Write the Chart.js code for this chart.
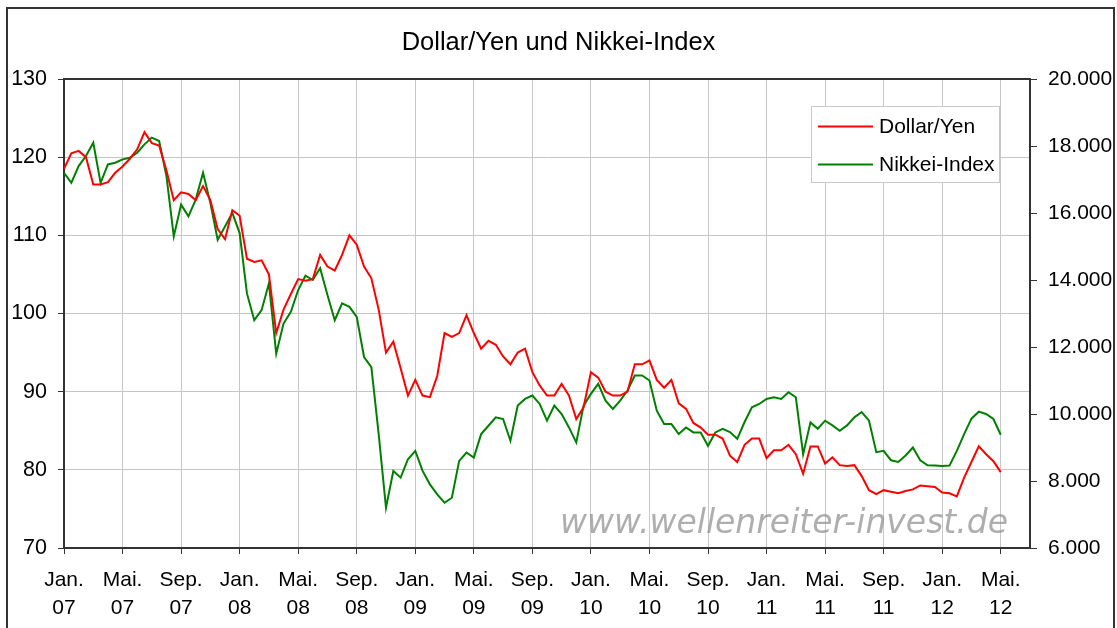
<!DOCTYPE html>
<html>
<head>
<meta charset="utf-8">
<script src="https://cdn.jsdelivr.net/npm/chart.js@4/dist/chart.umd.min.js"></script>
<style>
  html, body { margin: 0; padding: 0; background: #fff; }
  #wrap { width: 1117px; height: 628px; }
</style>
</head>
<body>
<div id="wrap"><canvas id="myChart" width="1117" height="628"></canvas></div>
<script>
  // months since Jan. 2007, one value every half month
  const months = [
    0, 0.5, 1, 1.5, 2, 2.5, 3, 3.5,
    4, 4.5, 5, 5.5, 6, 6.5, 7, 7.5,
    8, 8.5, 9, 9.5, 10, 10.5, 11, 11.5,
    12, 12.5, 13, 13.5, 14, 14.5, 15, 15.5,
    16, 16.5, 17, 17.5, 18, 18.5, 19, 19.5,
    20, 20.5, 21, 21.5, 22, 22.5, 23, 23.5,
    24, 24.5, 25, 25.5, 26, 26.5, 27, 27.5,
    28, 28.5, 29, 29.5, 30, 30.5, 31, 31.5,
    32, 32.5, 33, 33.5, 34, 34.5, 35, 35.5,
    36, 36.5, 37, 37.5, 38, 38.5, 39, 39.5,
    40, 40.5, 41, 41.5, 42, 42.5, 43, 43.5,
    44, 44.5, 45, 45.5, 46, 46.5, 47, 47.5,
    48, 48.5, 49, 49.5, 50, 50.5, 51, 51.5,
    52, 52.5, 53, 53.5, 54, 54.5, 55, 55.5,
    56, 56.5, 57, 57.5, 58, 58.5, 59, 59.5,
    60, 60.5, 61, 61.5, 62, 62.5, 63, 63.5,
    64
  ];

  const dollarYen = [
    118.5, 120.5, 120.8, 120, 116.5, 116.5, 116.8, 118,
    118.8, 119.8, 121, 123.2, 121.8, 121.5, 118.3, 114.5,
    115.5, 115.3, 114.5, 116.3, 114.5, 110.8, 109.5, 113.2,
    112.5, 107, 106.6, 106.8, 105, 97.5, 100.5, 102.5,
    104.4, 104.2, 104.4, 107.5, 106, 105.5, 107.5, 110,
    108.8, 106, 104.5, 100.5, 95, 96.4, 93, 89.5,
    91.5, 89.5, 89.3, 92, 97.5, 97, 97.5, 99.8,
    97.5, 95.5, 96.5, 96, 94.5, 93.5, 95, 95.5,
    92.5, 90.8, 89.5, 89.5, 91, 89.5, 86.5, 88,
    92.5, 91.8, 90, 89.5, 89.5, 90, 93.5, 93.5,
    94, 91.5, 90.5, 91.5, 88.5, 87.8, 86, 85.4,
    84.5, 84.5, 84, 81.8, 81, 83.2, 84, 84,
    81.5, 82.5, 82.5, 83.2, 82, 79.5, 83, 83,
    80.8, 81.6, 80.6, 80.5, 80.6, 79.2, 77.4, 76.9,
    77.4, 77.2, 77, 77.3, 77.5, 78, 77.9, 77.8,
    77.1, 77, 76.6, 79, 81, 83, 82, 81.1,
    79.7
  ];

  const nikkei = [
    17200, 16900, 17400, 17700, 18100, 16900, 17450, 17500,
    17600, 17650, 17800, 18050, 18250, 18150, 17100, 15300,
    16250, 15900, 16400, 17200, 16300, 15200, 15600, 16000,
    15400, 13600, 12800, 13100, 13900, 11800, 12700, 13050,
    13700, 14130, 14000, 14350, 13550, 12800, 13300, 13200,
    12900, 11700, 11400, 9400, 7200, 8300, 8100, 8650,
    8900, 8300, 7900, 7600, 7350, 7500, 8600, 8850,
    8700, 9400, 9650, 9900, 9850, 9200, 10250, 10450,
    10550, 10300, 9800, 10250, 10000, 9600, 9150, 10250,
    10600, 10900, 10400, 10150, 10400, 10700, 11150, 11150,
    11000, 10100, 9700, 9700, 9400, 9600, 9450, 9450,
    9050, 9450, 9560, 9460, 9260, 9760, 10200, 10300,
    10450, 10500, 10450, 10650, 10500, 8800, 9750, 9560,
    9800, 9660, 9500, 9660, 9900, 10060, 9800, 8860,
    8900, 8620, 8570, 8760, 9000, 8620, 8470, 8460,
    8450, 8460, 8900, 9400, 9860, 10070, 10000, 9850,
    9380
  ];

  const xTickLabels = [
    ['Jan.', '07'], ['Mai.', '07'], ['Sep.', '07'],
    ['Jan.', '08'], ['Mai.', '08'], ['Sep.', '08'],
    ['Jan.', '09'], ['Mai.', '09'], ['Sep.', '09'],
    ['Jan.', '10'], ['Mai.', '10'], ['Sep.', '10'],
    ['Jan.', '11'], ['Mai.', '11'], ['Sep.', '11'],
    ['Jan.', '12'], ['Mai.', '12']
  ];

  const FONT = "'Liberation Sans', Arial, sans-serif";

  function toPoints(values) {
    return values.map((v, i) => ({ x: months[i], y: v }));
  }

  function dotThousands(v) {
    return String(v).replace(/\B(?=(\d{3})+(?!\d))/g, '.');
  }

  // frame, plot border, watermark, legend box
  const decor = {
    id: 'decor',
    beforeDatasetsDraw(chart) {
      const ctx = chart.ctx;
      const a = chart.chartArea;
      ctx.save();
      ctx.font = "oblique 33px 'DejaVu Sans', sans-serif";
      ctx.fillStyle = 'rgba(140,140,140,0.7)';
      ctx.textAlign = 'right';
      ctx.textBaseline = 'alphabetic';
      ctx.fillText('www.wellenreiter-invest.de', a.right - 22, a.bottom - 15);
      ctx.restore();
    },
    afterDraw(chart) {
      const ctx = chart.ctx;
      const a = chart.chartArea;
      ctx.save();
      // outer frame
      ctx.strokeStyle = '#333';
      ctx.lineWidth = 2;
      ctx.strokeRect(7, 8, chart.width - 10, chart.height + 10);
      // top edge of plot area
      ctx.beginPath();
      ctx.moveTo(a.left, a.top);
      ctx.lineTo(a.right, a.top);
      ctx.stroke();

      // legend
      const bx = a.right - 219, by = a.top + 27, bw = 188, bh = 76;
      ctx.fillStyle = '#fff';
      ctx.fillRect(bx, by, bw, bh);
      ctx.strokeStyle = '#c8c8c8';
      ctx.lineWidth = 1;
      ctx.strokeRect(bx + 0.5, by + 0.5, bw, bh);
      ctx.font = '21px ' + FONT;
      ctx.textBaseline = 'middle';
      ctx.textAlign = 'left';
      chart.data.datasets.forEach((ds, i) => {
        const y = by + 20.5 + i * 38;
        ctx.strokeStyle = ds.borderColor;
        ctx.lineWidth = 2;
        ctx.beginPath();
        ctx.moveTo(bx + 7, y);
        ctx.lineTo(bx + 62, y);
        ctx.stroke();
        ctx.fillStyle = '#000';
        ctx.fillText(ds.label, bx + 68, y + 1);
      });
      ctx.restore();
    }
  };

  const data = {
    datasets: [{
      label: 'Dollar/Yen',
      data: toPoints(dollarYen),
      borderColor: '#ff0000',
      borderWidth: 2,
      pointRadius: 0,
      yAxisID: 'y'
    }, {
      label: 'Nikkei-Index',
      data: toPoints(nikkei),
      borderColor: '#008000',
      borderWidth: 2,
      pointRadius: 0,
      yAxisID: 'y1'
    }]
  };

  const config = {
    type: 'line',
    data,
    plugins: [decor],
    options: {
      responsive: false,
      animation: false,
      layout: { padding: 0 },
      plugins: {
        legend: { display: false },
        tooltip: { enabled: false },
        title: {
          display: true,
          text: 'Dollar/Yen und Nikkei-Index',
          color: '#000',
          font: { family: FONT, size: 25.5, weight: 'normal' },
          padding: { top: 27.7, bottom: 20.7 }
        }
      },
      scales: {
        x: {
          type: 'linear',
          min: 0,
          max: 66,
          afterFit(s) { s.height = 80; },
          ticks: {
            stepSize: 4,
            includeBounds: false,
            autoSkip: false,
            maxRotation: 0,
            padding: 12,
            color: '#000',
            font: { family: FONT, size: 21, lineHeight: 1.333 },
            callback: (v) => xTickLabels[v / 4] || ''
          },
          grid: { color: '#c8c8c8', tickColor: '#333', tickLength: 6 },
          border: { color: '#333', width: 2 }
        },
        y: {
          position: 'left',
          min: 70,
          max: 130,
          afterFit(s) { s.width = 64; },
          ticks: {
            stepSize: 10,
            padding: 11,
            color: '#000',
            font: { family: FONT, size: 21.5 }
          },
          grid: { color: '#c4c4c4', tickColor: '#333', tickLength: 6 },
          border: { color: '#333', width: 2 }
        },
        y1: {
          position: 'right',
          min: 6000,
          max: 20000,
          afterFit(s) { s.width = 87; },
          ticks: {
            stepSize: 2000,
            padding: 11,
            color: '#000',
            font: { family: FONT, size: 21 },
            callback: (v) => dotThousands(v)
          },
          grid: { drawOnChartArea: false, tickColor: '#333', tickLength: 7 },
          border: { color: '#333', width: 2 }
        }
      }
    }
  };

  var myChart = new Chart(document.getElementById('myChart'), config);
</script>
</body>
</html>
